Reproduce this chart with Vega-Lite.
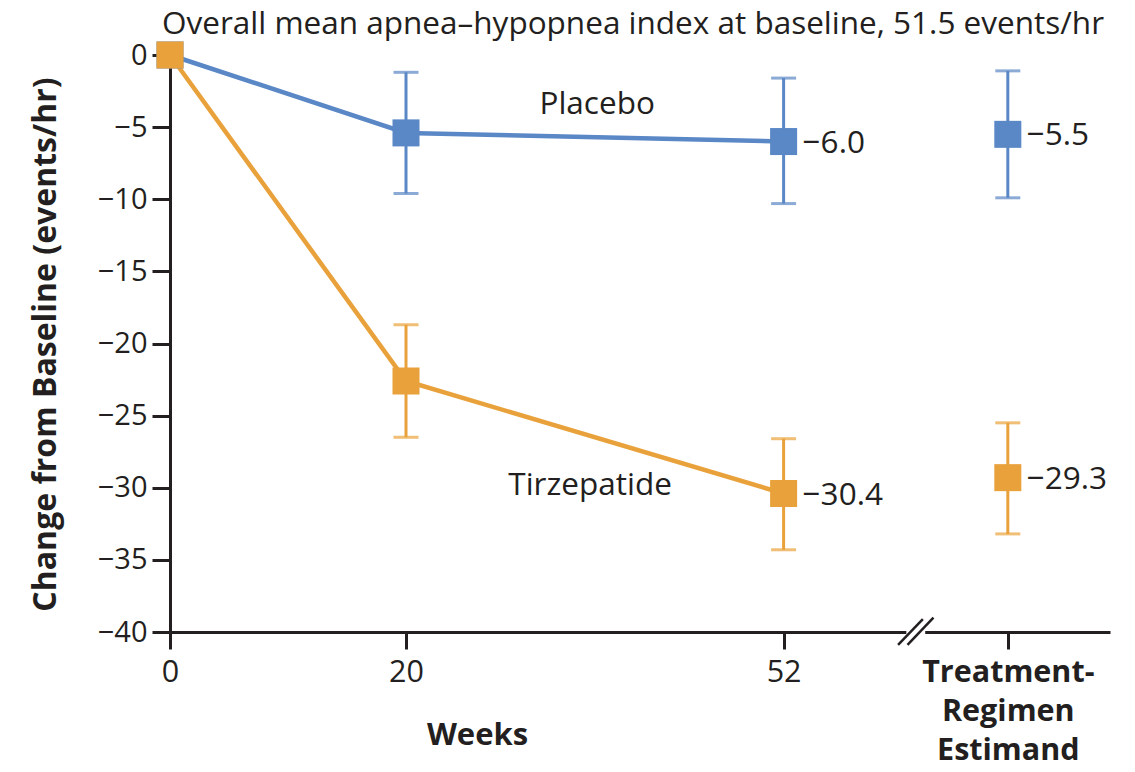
{
  "$schema": "https://vega.github.io/schema/vega-lite/v6.json",
  "width": 940,
  "height": 577,
  "autosize": {"type": "none"},
  "padding": {"left": 170, "top": 55, "right": 25, "bottom": 140},
  "background": "white",
  "config": {
    "font": "Open Sans",
    "view": {"stroke": null},
    "axis": {"grid": false, "domainColor": "#231f20", "tickColor": "#231f20", "labelColor": "#231f20", "titleColor": "#231f20", "domainWidth": 3, "tickWidth": 3}
  },
  "title": {"text": "Overall mean apnea–hypopnea index at baseline, 51.5 events/hr", "anchor": "start", "frame": "group", "dx": -8, "fontSize": 31.5, "fontWeight": "normal", "color": "#231f20", "offset": 1, "font": "Open Sans"},
  "datasets": {
    "pts": [
      {"group": "Placebo", "week": 0, "mean": 0, "lo": null, "hi": null},
      {"group": "Placebo", "week": 20, "mean": -5.4, "lo": -9.6, "hi": -1.2},
      {"group": "Placebo", "week": 52, "mean": -6.0, "lo": -10.3, "hi": -1.6},
      {"group": "Placebo", "week": 71, "mean": -5.5, "lo": -9.9, "hi": -1.1},
      {"group": "Tirzepatide", "week": 0, "mean": 0, "lo": null, "hi": null},
      {"group": "Tirzepatide", "week": 20, "mean": -22.6, "lo": -26.5, "hi": -18.7},
      {"group": "Tirzepatide", "week": 52, "mean": -30.4, "lo": -34.3, "hi": -26.6},
      {"group": "Tirzepatide", "week": 71, "mean": -29.3, "lo": -33.2, "hi": -25.5}
    ],
    "notes": [
      {"group": "Placebo", "week": 36.2, "mean": -3.5, "text": "Placebo"},
      {"group": "Tirzepatide", "week": 35.6, "mean": -29.9, "text": "Tirzepatide"}
    ]
  },
  "layer": [
    {
      "mark": {"type": "rule", "strokeDash": [10, 7], "strokeWidth": 2.5, "color": "#231f20"},
      "encoding": {"y": {"datum": 0}}
    },
    {
      "data": {"name": "pts"},
      "transform": [{"filter": "datum.hi != null"}],
      "mark": {"type": "rule", "strokeWidth": 3},
      "encoding": {
        "x": {"field": "week", "type": "quantitative"},
        "y": {"field": "lo", "type": "quantitative"},
        "y2": {"field": "hi"},
        "color": {"field": "group", "type": "nominal", "legend": null, "scale": {"domain": ["Placebo", "Tirzepatide"], "range": ["#5a87c5", "#e9a23b"]}}
      }
    },
    {
      "data": {"name": "pts"},
      "transform": [{"filter": "datum.hi != null"}],
      "mark": {"type": "tick", "orient": "horizontal", "size": 25, "thickness": 3},
      "encoding": {
        "x": {"field": "week", "type": "quantitative"},
        "y": {"field": "lo", "type": "quantitative"},
        "color": {"field": "group", "type": "nominal", "legend": null}
      }
    },
    {
      "data": {"name": "pts"},
      "transform": [{"filter": "datum.hi != null"}],
      "mark": {"type": "tick", "orient": "horizontal", "size": 25, "thickness": 3},
      "encoding": {
        "x": {"field": "week", "type": "quantitative"},
        "y": {"field": "hi", "type": "quantitative"},
        "color": {"field": "group", "type": "nominal", "legend": null}
      }
    },
    {
      "data": {"name": "pts"},
      "transform": [{"filter": "datum.week <= 52"}],
      "mark": {"type": "line", "strokeWidth": 4.5},
      "encoding": {
        "x": {"field": "week", "type": "quantitative"},
        "y": {"field": "mean", "type": "quantitative"},
        "color": {"field": "group", "type": "nominal", "legend": null}
      }
    },
    {
      "data": {"name": "pts"},
      "mark": {"type": "point", "shape": "square", "filled": true, "size": 730, "opacity": 1},
      "encoding": {
        "x": {"field": "week", "type": "quantitative"},
        "y": {"field": "mean", "type": "quantitative"},
        "color": {"field": "group", "type": "nominal", "legend": null}
      }
    },
    {
      "data": {"name": "pts"},
      "transform": [{"filter": "datum.week >= 52"}],
      "mark": {"type": "text", "align": "left", "baseline": "middle", "dx": 19, "dy": 2, "fontSize": 31.5, "color": "#231f20"},
      "encoding": {
        "x": {"field": "week", "type": "quantitative"},
        "y": {"field": "mean", "type": "quantitative"},
        "text": {"field": "mean", "type": "quantitative", "format": ".1f"}
      }
    },
    {
      "data": {"name": "notes"},
      "mark": {"type": "text", "align": "center", "baseline": "middle", "fontSize": 31.5, "color": "#231f20"},
      "encoding": {
        "x": {"field": "week", "type": "quantitative"},
        "y": {"field": "mean", "type": "quantitative"},
        "text": {"field": "text"}
      }
    },
    {
      "data": {"values": [{}]},
      "mark": {"type": "rule", "color": "white", "strokeWidth": 6},
      "encoding": {"x": {"datum": 62.4}, "x2": {"datum": 64.0}, "y": {"datum": -40}, "y2": {"datum": -40}}
    },
    {
      "data": {"values": [{}]},
      "mark": {"type": "rule", "color": "#231f20", "strokeWidth": 2.5},
      "encoding": {"x": {"datum": 61.7}, "x2": {"datum": 63.8}, "y": {"datum": -40.9}, "y2": {"datum": -39.1}}
    },
    {
      "data": {"values": [{}]},
      "mark": {"type": "rule", "color": "#231f20", "strokeWidth": 2.5},
      "encoding": {
        "x": {"datum": 62.5, "type": "quantitative", "scale": {"domain": [0, 79.66], "nice": false, "zero": false}, "axis": {"values": [0, 20, 52, 71], "title": "Weeks", "titleFontSize": 31, "titleFontWeight": "bold", "titleX": 307, "titleY": 103, "titleBaseline": "middle", "titleAnchor": null, "labelFontSize": 30.5, "labelPadding": 8, "tickSize": 17, "labelLineHeight": 39, "labelBaseline": "top", "labelFlush": false, "labelExpr": "datum.value == 71 ? ['Treatment-', 'Regimen', 'Estimand'] : datum.label", "labelFontWeight": {"condition": {"test": "datum.value == 71", "value": "bold"}, "value": "normal"}}},
        "x2": {"datum": 64.7},
        "y": {"datum": -40.9, "type": "quantitative", "scale": {"domain": [-40, 0], "nice": false, "zero": false}, "axis": {"values": [0, -5, -10, -15, -20, -25, -30, -35, -40], "title": "Change from Baseline (events/hr)", "titleFontSize": 32, "titleFontWeight": "bold", "titleX": -125, "titleY": 289, "titleAngle": -90, "titleAlign": "center", "titleBaseline": "middle", "labelFontSize": 29, "labelPadding": 5, "tickSize": 18, "labelFlush": false, "format": "d"}},
        "y2": {"datum": -39.0}
      }
    }
  ],
  "encoding": {}
}
